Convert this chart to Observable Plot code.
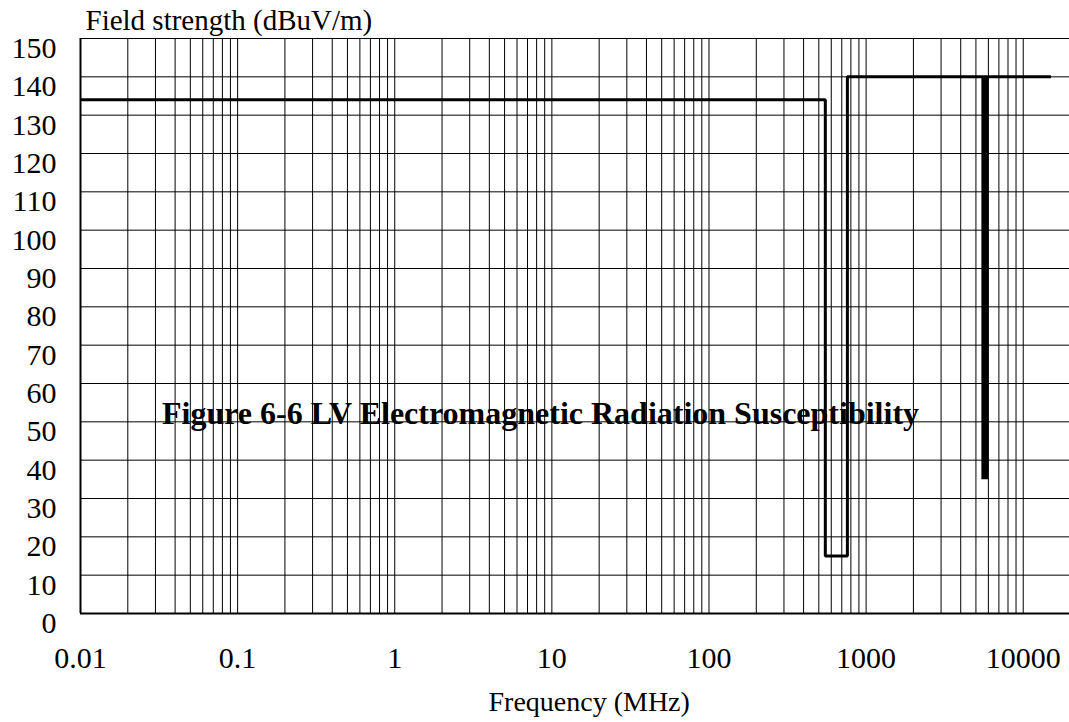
<!DOCTYPE html>
<html><head><meta charset="utf-8">
<script src="https://cdn.jsdelivr.net/npm/d3@7"></script>
<script src="https://cdn.jsdelivr.net/npm/@observablehq/plot@0.6"></script>
<style>html,body{margin:0;padding:0;background:#fff} svg{display:block}</style>
</head><body><div id="chart"></div>
<script>
// Axis ticks and labels
const xTicks = [0.01, 0.1, 1, 10, 100, 1000, 10000];
const xTickLabels = ["0.01", "0.1", "1", "10", "100", "1000", "10000"];
const yTicks = [0, 10, 20, 30, 40, 50, 60, 70, 80, 90, 100, 110, 120, 130, 140, 150];
// Log grid: decade starts and mantissas 1..9
const gridDecades = [0.01, 0.1, 1, 10, 100, 1000];
const gridMantissas = [1, 2, 3, 4, 5, 6, 7, 8, 9];
const gridLast = [10000];

// Limit line (field strength vs frequency)
const limitFreq = [0.01, 550, 550, 760, 760, 15000];
const limitLevel = [134, 134, 15, 15, 140, 140];
// Narrow band line at ~5.7 GHz
const spikeFreq = [5700, 5700];
const spikeLevel = [140, 35];

const yTitle = "Field strength (dBuV/m)";
const xTitle = "Frequency (MHz)";
const figTitle = "Figure 6-6 LV Electromagnetic Radiation Susceptibility";

const gridFreqs = gridDecades.flatMap(d => gridMantissas.map(m => +(d * m).toPrecision(6))).concat(gridLast);
const limit = limitFreq.map((f, i) => ({f, v: limitLevel[i]}));
const spike = spikeFreq.map((f, i) => ({f, v: spikeLevel[i]}));

const chart = Plot.plot({
  width: 1069, height: 722,
  marginLeft: 80, marginRight: 0, marginTop: 38, marginBottom: 109,
  style: {fontFamily: "'Liberation Serif', 'Times New Roman', serif", fontSize: "30px", background: "#fff", color: "#000", overflow: "visible"},
  x: {type: "log", domain: [0.01, 19700]},
  y: {domain: [0, 150]},
  marks: [
    Plot.ruleX(gridFreqs, {stroke: "#000", strokeWidth: 1}),
    Plot.ruleY(yTicks, {stroke: "#000", strokeWidth: 1}),
    Plot.ruleX([0.01], {stroke: "#000", strokeWidth: 2}),
    Plot.ruleY([0], {stroke: "#000", strokeWidth: 2}),
    Plot.line(limit, {x: "f", y: "v", stroke: "#000", strokeWidth: 3, strokeLinejoin: "miter", strokeLinecap: "butt"}),
    Plot.line(spike, {x: "f", y: "v", stroke: "#000", strokeWidth: 7, strokeLinecap: "butt"}),
    Plot.axisX({ticks: xTicks, tickSize: 0, tickPadding: 33, tickFormat: d => xTickLabels[xTicks.indexOf(d)], label: null, fontSize: 30}),
    Plot.axisY({ticks: yTicks, tickSize: 0, tickPadding: 24, dy: 10, label: null, fontSize: 30}),
    Plot.text([yTitle], {text: d => d, frameAnchor: "top-left", textAnchor: "start", lineAnchor: "bottom", dx: 5, dy: -9, fontSize: 29}),
    Plot.text([xTitle], {text: d => d, frameAnchor: "bottom-left", textAnchor: "start", lineAnchor: "bottom", dx: 408, dy: 97, fontSize: 28}),
    Plot.text([figTitle], {text: d => d, frameAnchor: "top-left", textAnchor: "middle", lineAnchor: "middle", dx: 460, dy: 375, fontWeight: "bold", fontSize: 32})
  ]
});
document.getElementById("chart").appendChild(chart);
</script>
</body></html>
